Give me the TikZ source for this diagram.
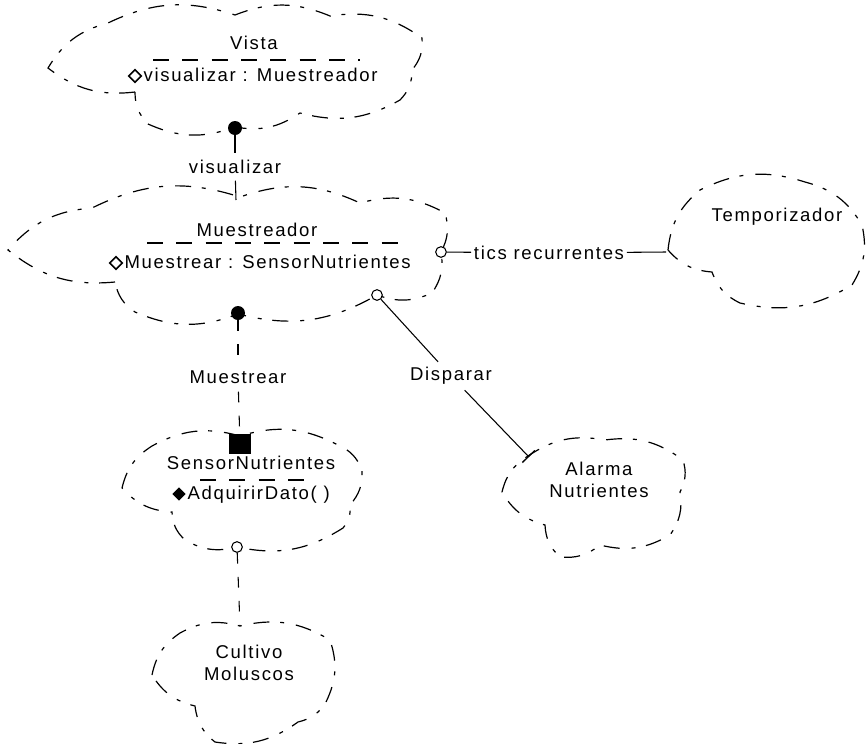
\documentclass[tikz,border=0pt]{standalone}
\usepackage{fontspec}
\setmainfont[LetterSpace=9]{Liberation Sans}
\usetikzlibrary{arrows.meta,shapes.geometric}
\begin{document}
\begin{tikzpicture}[x=0.75pt,y=-0.75pt,
  lbl/.style={font=\fontsize{13.9}{16}\selectfont, inner sep=1pt},
  cloudline/.style={line width=0.9pt, dash pattern=on 12pt off 8pt on 3pt off 9pt},
  sepline/.style={line width=0.9pt, dash pattern=on 12pt off 10pt},
  link/.style={line width=0.8pt},
  faint/.style={line width=0.8pt, dash pattern=on 8pt off 10pt},
  fdot/.style={circle, fill=black, inner sep=0pt, minimum size=10.5pt},
  odot/.style={circle, draw, line width=0.8pt, fill=white, inner sep=0pt, minimum size=8pt},
  odiam/.style={diamond, draw, line width=1.2pt, inner sep=0pt, minimum size=10pt},
  fdiam/.style={diamond, fill=black, inner sep=0pt, minimum size=10pt},
  fsq/.style={rectangle, fill=black, inner sep=0pt, minimum width=16pt, minimum height=14.5pt},
  lobe/.style={bend left=22}]
\useasboundingbox (0,0) rectangle (867,743);

% class clouds
\draw[cloudline] (135,92) to[lobe] (48,68) to[lobe] (108,23) to[lobe] (235,15)
  to[lobe] (330,16) to[lobe] (422,38) to[lobe] (412,70) to[lobe] (400,100)
  to[lobe] (300,113) to[lobe] (235,127) to[lobe] (148,124) to[lobe] (135,92);
\draw[cloudline] (115,282) to[lobe] (8,250) to[lobe] (92,208) to[lobe] (240,197)
  to[lobe] (360,203) to[lobe] (445,213) to[lobe] (441,252) to[lobe] (432,293)
  to[lobe] (377,295) to[lobe] (238,314) to[lobe] (135,312) to[lobe] (115,282);
\draw[cloudline] (668,250) to[lobe] (700,190) to[lobe] (805,182) to[lobe] (862,225)
  to[lobe] (852,285) to[lobe] (740,303) to[lobe] (712,272) to[lobe] (668,250);
\draw[cloudline] (122,488) to[lobe] (152,446) to[lobe] (240,436) to[lobe] (338,445)
  to[lobe] (362,470) to[lobe] (350,505) to[lobe] (343,528) to[lobe] (237,547)
  to[lobe] (185,540) to[lobe] (172,512) to[lobe] (122,488);
\draw[cloudline] (502,492) to[lobe] (528,456) to[lobe] (605,440) to[lobe] (683,460)
  to[lobe] (680,492) to[lobe] (670,535) to[lobe] (600,545) to[lobe] (560,557)
  to[lobe] (545,525) to[lobe] (502,492);
\draw[cloudline] (152,675) to[lobe] (180,633) to[lobe] (240,626) to[lobe] (330,640)
  to[lobe] (326,702) to[lobe] (298,722) to[lobe] (215,742) to[lobe] (195,706)
  to[lobe] (152,675);

% compartment separators
\draw[sepline] (153,60) -- (360,60);
\draw[sepline] (147,243) -- (400,243);
\draw[sepline] (200,480) -- (307,480);

% class names and members
\node[lbl] (vista) at (254,43) {Vista};
\node[lbl, anchor=west] (vattr) at (142,75) {visualizar : Muestreador};
\node[odiam] (vdiam) at (135,76) {};
\node[lbl] (muest) at (257,230) {Muestreador};
\node[lbl, anchor=west] (mattr) at (123,262) {Muestrear : SensorNutrientes};
\node[odiam] (mdiam) at (116,263) {};
\node[lbl] (temp) at (777,217) {Temporizador};
\node[lbl] (sensor) at (251,463) {SensorNutrientes};
\node[lbl, anchor=west] (sop) at (186,495) {AdquirirDato( )};
\node[fdiam] (sdiam) at (179,494) {};
\node[lbl, align=center] (alarma) at (599,480) {Alarma\\Nutrientes};
\node[lbl, align=center] (cultivo) at (249,663) {Cultivo\\Moluscos};

% relationship adornments
\node[fdot] (vdot) at (235,128) {};
\node[fdot] (mdot) at (238,313) {};
\node[odot] (tcirc) at (441,252) {};
\node[odot] (dcirc) at (377,295) {};
\node[fsq] (sq) at (240,444) {};
\node[odot] (bcirc) at (237,547) {};
\coordinate (mtop) at (236,200);
\coordinate (tleft) at (666,252);
\coordinate (atee) at (529,457);
\coordinate (ctop) at (240,626);

% relationship labels
\node[lbl, inner sep=5pt] (lvis) at (235,167) {visualizar};
\node[lbl, inner sep=6pt] (lmue) at (238,377) {Muestrear};
\node[lbl, inner sep=2pt] (ltics) at (549,253) {tics recurrentes};
\node[lbl, inner sep=4pt] (ldisp) at (451,376) {Disparar};

% connectors
\draw[link] (vdot) -- (lvis);
\draw[link] (lvis) -- (mtop);
\draw[faint] (mdot) -- (lmue);
\draw[faint] (lmue) -- (sq);
\draw[link] (tcirc) -- (ltics);
\draw[link] (ltics) -- (tleft);
\draw[link] (dcirc) -- (ldisp);
\draw[link, -{Bar[width=13pt, line width=1pt]}] (ldisp) -- (atee);
\draw[faint] (bcirc) -- (ctop);
\end{tikzpicture}
\end{document}
